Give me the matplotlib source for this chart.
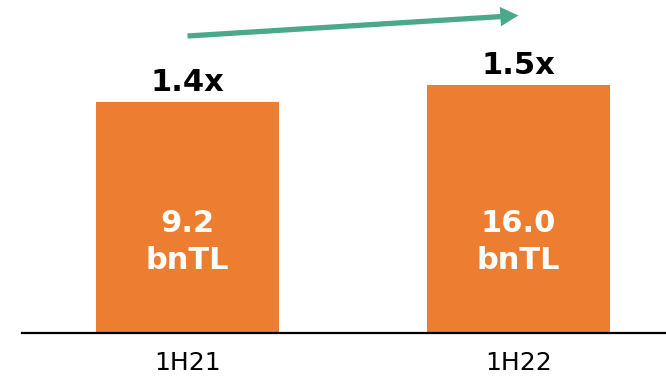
import matplotlib
matplotlib.use("Agg")
import matplotlib.pyplot as plt
from matplotlib.patches import FancyArrowPatch

categories = ["1H21", "1H22"]
multiples = [1.4, 1.5]
multiple_labels = ["1.4x", "1.5x"]
amounts = ["9.2", "16.0"]
unit = "bnTL"

fig = plt.figure(figsize=(6.66, 3.77), dpi=100)
ax = fig.add_axes([22/666, 44/377, 1 - 22/666, 333/377])

x = list(range(len(categories)))
bars = ax.bar(x, multiples, width=0.553, color="#ED7D31")

ax.set_xlim(-0.5, 1.446)
ax.set_ylim(0, 333/165.2)

for xi, h, lab, amt in zip(x, multiples, multiple_labels, amounts):
    ax.annotate(lab, (xi, h), xytext=(0, 8), textcoords="offset points",
                ha="center", va="baseline", fontsize=22, fontweight="bold", color="black")
    ax.text(xi, 101/165.2, amt, ha="center", va="baseline", fontsize=22,
            fontweight="bold", color="white")
    ax.text(xi, 64/165.2, unit, ha="center", va="baseline", fontsize=22,
            fontweight="bold", color="white")

arrow = FancyArrowPatch((0, 297/165.2), (1, 317.5/165.2),
                        arrowstyle="simple,head_length=1.3,head_width=1.4,tail_width=0.38",
                        mutation_scale=10, color="#4AA98B", lw=0,
                        shrinkA=0, shrinkB=0, clip_on=False)
ax.add_patch(arrow)

ax.set_xticks(x)
ax.set_xticklabels(categories, fontsize=18)
ax.tick_params(axis="x", length=0, pad=13)
ax.set_yticks([])
for s in ["top", "right", "left"]:
    ax.spines[s].set_visible(False)
ax.spines["bottom"].set_linewidth(1.6)
ax.spines["bottom"].set_color("black")

fig.savefig("out.png", dpi=100)
